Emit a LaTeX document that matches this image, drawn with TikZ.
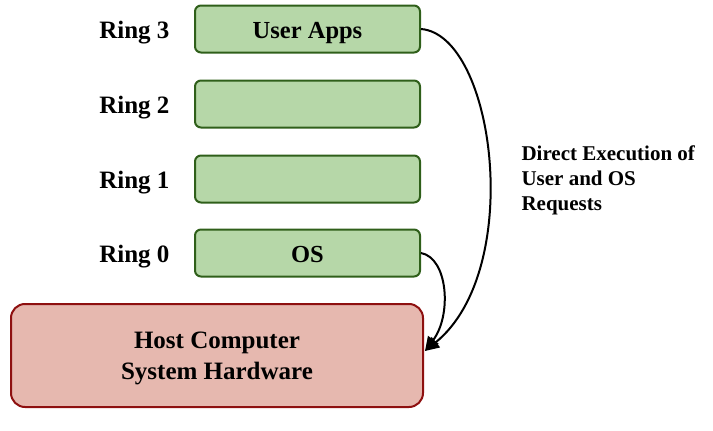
\documentclass[tikz,border=0pt]{standalone}
\usepackage{fontspec}
\setmainfont{Liberation Serif}
\usepackage{tikz}
\usetikzlibrary{arrows.meta}
\definecolor{ringfill}{HTML}{B6D7A8}
\definecolor{ringedge}{HTML}{2F5F1A}
\definecolor{hostfill}{HTML}{E6B8AF}
\definecolor{hostedge}{HTML}{8E1010}
\tikzset{
  ringbox/.style={draw=ringedge,fill=ringfill,line width=2pt,rounded corners=6pt,
    minimum width=225pt,minimum height=47pt,text height=20pt,text depth=2pt,
    font=\fontsize{24.5}{28}\selectfont\bfseries},
  ringlabel/.style={anchor=east,text height=20pt,text depth=2pt,
    font=\fontsize{25}{28}\selectfont\bfseries},
  hostbox/.style={draw=hostedge,fill=hostfill,line width=2pt,rounded corners=14pt,
    minimum width=412pt,minimum height=103pt,align=center,text depth=0pt,
    font=\fontsize{25}{31}\selectfont\bfseries},
  request/.style={line width=2pt,-{Triangle[length=14pt,width=13pt]}}
}
\begin{document}
\begin{tikzpicture}[x=1pt,y=-1pt]
			\useasboundingbox (0,0) rectangle (713,431);
			% rings
			\node[ringbox] (apps) at (307.5,29) {User Apps};
			\node[ringbox] (ringtwo) at (307.5,104) {};
			\node[ringbox] (ringone) at (307.5,179) {};
			\node[ringbox] (os) at (307.5,253) {OS};
			\node[ringlabel] (lthree) at (173,29) {Ring 3};
			\node[ringlabel] (ltwo) at (173,104) {Ring 2};
			\node[ringlabel] (lone) at (173,179) {Ring 1};
			\node[ringlabel] (lzero) at (173,253) {Ring 0};
			% hardware
			\node[hostbox] (host) at (217,355.5) {Host Computer\\System Hardware};
			\coordinate (tip) at (425,351);
			\node[anchor=west,align=left,font=\fontsize{21}{25}\selectfont\bfseries] (direct) at (518,180)
			  {Direct Execution of\\User and OS\\Requests};
			% arrows
			\draw[request] (apps.east) .. controls (495,35) and (525,270) .. (tip);
			\draw[request] (os.east) .. controls (448,258) and (452,315) .. (tip);
		\end{tikzpicture}
\end{document}
